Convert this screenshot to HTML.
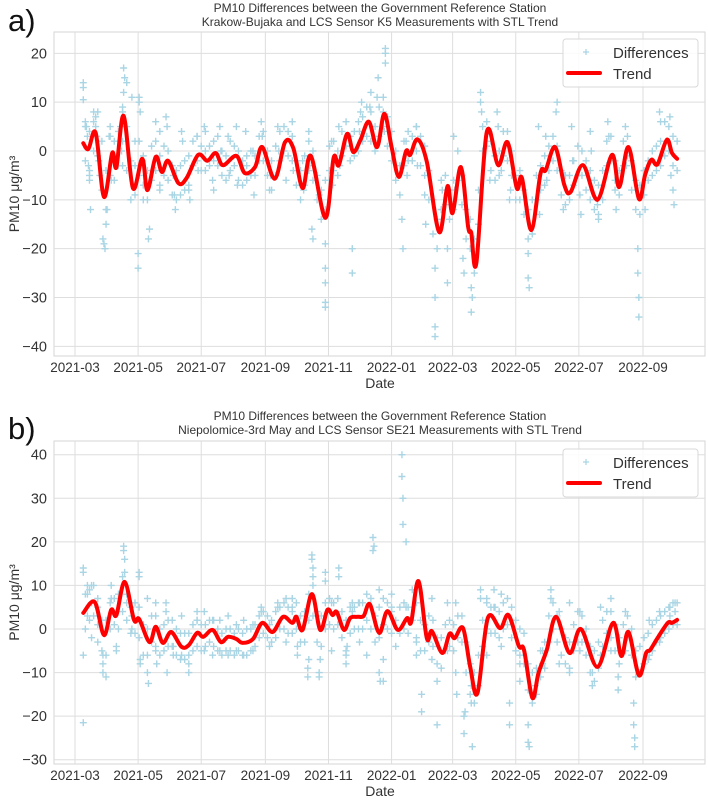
<!DOCTYPE html>
<html><head><meta charset="utf-8"><style>
html,body{margin:0;padding:0;background:#fff}
svg{display:block;font-family:"Liberation Sans",sans-serif}
</style></head><body>
<svg id="c" width="708" height="801" viewBox="0 0 708 801"></svg>
<script>
// ---- data ----
const startDate = "2021-03-01";
const xTickLabels = ["2021-03","2021-05","2021-07","2021-09","2021-11","2022-01","2022-03","2022-05","2022-07","2022-09"];
const yTicksA = [20,10,0,-10,-20,-30,-40];
const yTicksB = [40,30,20,10,0,-10,-20,-30];

const trendDatesA = ["2021-03-09","2021-03-14","2021-03-21","2021-03-29","2021-04-06","2021-04-10","2021-04-17","2021-04-26","2021-05-05","2021-05-10","2021-05-18","2021-05-24","2021-05-30","2021-06-09","2021-06-17","2021-06-28","2021-07-07","2021-07-15","2021-07-22","2021-08-04","2021-08-12","2021-08-22","2021-08-29","2021-09-10","2021-09-20","2021-09-28","2021-10-07","2021-10-15","2021-10-29","2021-11-06","2021-11-11","2021-11-19","2021-11-25","2021-12-02","2021-12-10","2021-12-18","2021-12-25","2022-01-01","2022-01-08","2022-01-15","2022-01-19","2022-01-26","2022-02-04","2022-02-16","2022-02-24","2022-03-01","2022-03-09","2022-03-16","2022-03-19","2022-03-24","2022-04-03","2022-04-14","2022-04-23","2022-05-02","2022-05-07","2022-05-16","2022-05-25","2022-05-30","2022-06-08","2022-06-17","2022-06-23","2022-07-05","2022-07-19","2022-08-02","2022-08-09","2022-08-18","2022-08-28","2022-09-03","2022-09-09","2022-09-15","2022-09-24","2022-09-29","2022-10-04"];
const trendValsA = [1.6,0.4,3.7,-9.4,-0.4,-3.3,7.2,-7.6,-1.6,-8.0,-1.2,-4.3,-2.0,-6.6,-5.5,-0.8,-2.0,-0.4,-2.9,-1.0,-4.5,-3.3,0.8,-5.7,1.8,0.6,-7.6,-1.0,-13.7,-1.4,-2.9,3.5,-0.2,2.3,6.0,0.8,7.6,0.8,-5.3,0,-0.8,2.4,-2.2,-16.6,-7.2,-12.7,-3.3,-15.5,-16.8,-22.9,3.9,-2.9,1.8,-7.6,-5.5,-16.2,-4.5,-3.9,0.8,-7.0,-8.4,-2.9,-10.0,-0.8,-7.4,0.8,-9.8,-4.9,-1.8,-2.7,2.3,-0.4,-1.6];

const trendDatesB = ["2021-03-09","2021-03-20","2021-03-29","2021-04-05","2021-04-10","2021-04-18","2021-04-27","2021-05-02","2021-05-12","2021-05-18","2021-05-25","2021-06-02","2021-06-12","2021-06-19","2021-06-27","2021-07-03","2021-07-12","2021-07-20","2021-07-27","2021-08-04","2021-08-10","2021-08-20","2021-08-29","2021-09-08","2021-09-18","2021-09-27","2021-10-01","2021-10-07","2021-10-16","2021-10-24","2021-10-31","2021-11-05","2021-11-09","2021-11-16","2021-11-22","2021-11-29","2021-12-05","2021-12-11","2021-12-20","2021-12-28","2022-01-07","2022-01-16","2022-01-20","2022-01-27","2022-02-04","2022-02-09","2022-02-19","2022-02-26","2022-03-03","2022-03-11","2022-03-18","2022-03-25","2022-04-04","2022-04-16","2022-04-24","2022-05-04","2022-05-09","2022-05-17","2022-05-23","2022-05-31","2022-06-09","2022-06-22","2022-07-03","2022-07-19","2022-08-03","2022-08-11","2022-08-18","2022-08-28","2022-09-04","2022-09-08","2022-09-15","2022-09-25","2022-09-29","2022-10-04"];
const trendValsB = [3.7,6.2,-1.4,4.4,3.2,10.8,2.1,2.3,-3.0,0.5,-3.2,-0.7,-4.1,-3.7,-0.9,-1.8,-0.2,-3.0,-1.8,-2.3,-3.2,-2.3,1.4,-0.7,2.8,1.4,2.8,-0.2,8.0,-0.2,4.4,3.2,3.9,-0.2,2.5,2.8,3.0,5.7,-0.9,4.1,-0.2,2.5,1.6,11.0,-2.1,-0.5,-5.5,-1.1,-2.1,0.2,-8.7,-14.7,2.5,0.2,3.2,-3.9,-4.8,-15.8,-10.1,-4.8,2.8,-5.5,0,-8.7,1.4,-6.2,-0.7,-10.6,-5.5,-4.8,-2.1,1.4,1.4,2.1];

// scatter outliers: days since startDate, values
const scatterDaysA = [8,8,8,10,11,12,13,14,15,14,18,20,20,21,22,23,24,27,28,29,30,31,33,34,35,44,45,46,46,47,47,48,50,55,58,61,61,62,62,63,65,66,71,72,75,78,82,82,88,89,95,96,97,103,104,110,111,118,119,125,126,133,134,140,141,148,149,156,157,165,166,172,173,180,181,188,189,196,197,204,210,211,220,221,226,227,229,230,236,242,242,242,242,242,248,249,255,256,268,268,275,276,277,285,286,292,293,300,300,300,298,299,316,317,320,321,330,331,338,339,348,348,348,348,354,355,360,360,366,367,375,376,383,383,384,392,392,393,400,401,408,409,412,420,421,438,438,439,448,449,455,456,465,466,472,473,480,481,488,489,498,499,505,506,515,516,522,523,532,533,544,544,545,545,550,551,565,566,575,576,578,579];
const scatterValsA = [14,13,10.5,6,5,3,-3,-5,-12,-6,8,7,5,3,0,-2,-5,-18,-19,-20,-15,-12,3,5,-6,5,0,-3,8,12,17,15,14,11,2,-21,-24,11,10,8,-2,-10,-18,-16,-4,6,4,-8,7,5,-5,-9,-12,4,2,-8,-10,3,-4,5,4,-6,-8,5,0,3,-5,5,-7,4,-3,0,-9,6,3,-8,-5,5,0,-6,6,-4,-2,-8,4,-3,-16,-18,-9,-19,-24,-27,-31,-32,2,-7,5,-3,-20,-25,4,8,10,9,12,11,15,20,21,18,8,4,-14,-20,2,-5,5,-3,-9,-15,-24,-30,-36,-38,-12,-8,-20,-27,3,-8,-22,-25,-28,-33,-30,10,12,8,4,-6,8,5,-4,-10,-8,-21,-26,-28,5,-13,3,-6,8,10,-12,-5,5,-2,-9,-13,4,0,-11,-14,6,3,-6,-12,5,-3,-20,-25,-30,-34,-4,-12,8,6,7,-5,-8,-11];

// dense band points: days since startDate, upper and lower observed values
const bandDaysA = [10,14,18,22,26,30,34,38,42,46,50,54,58,62,66,70,74,78,82,86,90,94,98,102,106,110,114,118,122,126,130,134,138,142,146,150,154,158,162,166,170,174,178,182,186,190,194,198,202,206,210,214,218,222,226,230,234,238,242,246,250,254,258,262,266,270,274,278,282,286,290,294,298,302,306,310,314,318,322,326,330,334,338,342,346,350,354,358,362,366,370,374,378,382,386,390,394,398,402,406,410,414,418,422,426,430,434,438,442,446,450,454,458,462,466,470,474,478,482,486,490,494,498,502,506,510,514,518,522,526,530,534,538,542,546,550,554,558,562,566,570,574,578,582];
const bandHiA = [5,4,6,8,2,-4,3,2,4,9,5,-2,-3,2,-1,-4,1,2,-1,1,0,-3,-4,-3,-2,-1,2,3,1,0,1,2,3,0,-1,2,1,0,-2,-1,0,-1,3,4,0,-2,1,4,5,4,3,-2,-4,-1,2,0,-5,-8,-6,1,2,0,4,6,3,4,6,7,9,8,5,9,11,7,4,0,-3,2,4,3,5,3,1,-4,-10,-14,-6,-5,-8,-6,0,-5,-12,-14,-18,-8,5,6,2,-1,0,4,4,0,-5,-4,-8,-12,-10,-5,-3,-1,1,3,1,-4,-5,-5,-2,1,0,-2,-4,-6,-7,-4,2,3,-2,-4,2,3,-2,-6,-7,-4,-2,0,1,2,6,5,3,2];
const bandLoA = [-2,-4,0,-1,-8,-12,-5,-6,-3,2,-4,-10,-9,-5,-7,-10,-6,-4,-7,-5,-6,-9,-10,-9,-8,-7,-3,-2,-4,-4,-3,-2,-3,-5,-6,-4,-3,-6,-7,-6,-5,-5,-2,-2,-5,-8,-5,-2,0,-1,-2,-7,-10,-7,-4,-6,-10,-14,-12,-4,-4,-5,-1,1,-2,-1,0,2,3,2,0,3,5,1,-2,-6,-9,-3,-2,-2,0,-3,-5,-10,-17,-20,-12,-11,-14,-12,-6,-11,-18,-20,-25,-15,0,1,-4,-6,-5,-1,-2,-5,-10,-10,-13,-18,-17,-10,-8,-7,-4,-2,-4,-9,-11,-10,-7,-5,-5,-8,-10,-12,-13,-10,-3,-2,-8,-9,-3,-1,-8,-12,-13,-9,-6,-5,-4,-3,-1,0,-3,-4];

const scatterDaysB = [8,8,8,8,12,12,12,16,16,16,22,22,27,27,27,30,35,35,40,40,47,47,48,48,50,55,55,62,62,63,63,70,70,71,78,78,79,88,88,89,95,95,103,103,110,110,118,118,125,125,133,133,140,140,148,148,156,156,163,163,172,172,180,180,188,188,196,196,204,204,210,210,215,215,225,225,226,229,229,230,230,236,236,237,242,242,248,248,255,255,262,262,263,268,268,275,275,282,288,288,289,294,294,295,298,298,306,306,316,316,317,317,320,320,330,330,335,335,345,345,350,350,360,360,368,368,369,376,376,377,383,383,384,392,392,398,398,405,405,412,412,420,420,430,430,438,438,439,445,452,452,460,460,468,468,478,478,488,488,500,500,508,508,518,518,525,525,532,532,540,540,541,541,546,555,555,565,565,575,575,580,580];
const scatterValsB = [13,14,-6,-21.5,10,8,3,10,6,-2,5,-3,-10,-8,-6,-11,10,7,-4,-5,18,19,16,13,6,3,0,13,12,-7,-8,7,-10,-12.5,6,-5,-8,6,4,-10,-4,-6,3,-6,-10,-8,4,2,4,-5,2,-6,2,-5,3,-6,1,-5,2,-6,1,-5,5,4,1,-4,6,5,7,-3,7,5,-6,-4,-11,-9,-7,17,16,14,12,-10,-11,-7,13,11,6,-5,14,12,-6,-8,-4,6,4,6,-3,-6,21,18,19,9,-10,-12,-7,-12,8,4,35,40,24,30,20,5,-6,-3,-15,-19,7,-7,-12,-22,6,-5,6,-10,-15,-20,-24,-19,-13,-17,-27,9,7,7,-6,9,5,8,-4,-17,-22,-8,-12,-22,-26,-27,-13,-5,-8,9,7,4,-8,6,-10,4,-5,-10,-13,5,-6,7,-5,-11,-14,4,-5,-17,-22,-25,-27,-10,2,-6,4,-3,5,3,6,4];

const bandDaysB = [10,14,18,22,26,30,34,38,42,46,50,54,58,62,66,70,74,78,82,86,90,94,98,102,106,110,114,118,122,126,130,134,138,142,146,150,154,158,162,166,170,174,178,182,186,190,194,198,202,206,210,214,218,222,226,230,234,238,242,246,250,254,258,262,266,270,274,278,282,286,290,294,298,302,306,310,314,318,322,326,330,334,338,342,346,350,354,358,362,366,370,374,378,382,386,390,394,398,402,406,410,414,418,422,426,430,434,438,442,446,450,454,458,462,466,470,474,478,482,486,490,494,498,502,506,510,514,518,522,526,530,534,538,542,546,550,554,558,562,566,570,574,578,582];
const bandHiB = [8,9,10,7,2,2,6,7,8,12,8,5,6,5,1,0,3,3,0,1,2,2,0,-1,-1,-1,1,2,1,1,2,2,0,-1,0,0,-1,0,-1,0,0,1,3,4,3,2,4,5,6,5,4,6,3,4,8,10,4,3,6,7,6,7,4,2,5,5,6,6,8,7,3,5,7,6,5,2,5,6,5,9,6,2,1,3,2,-2,-2,1,2,1,3,3,-3,-8,-10,-6,2,6,5,5,4,6,7,5,2,0,-1,-8,-10,-9,-5,-3,3,6,3,0,-2,-3,1,4,3,0,-4,-5,-3,2,4,4,1,-2,1,3,0,-5,-4,-2,-1,1,2,3,4,5,6,6];
const bandLoB = [0,2,3,1,-5,-6,0,1,0,4,2,-1,-1,-2,-6,-6,-3,-4,-6,-5,-4,-4,-6,-7,-7,-6,-5,-4,-5,-4,-3,-4,-5,-6,-5,-5,-6,-5,-6,-6,-5,-4,-2,-1,-2,-3,-2,0,0,-1,-1,0,-3,-3,2,3,-3,-4,0,1,0,1,-2,-5,-1,0,0,0,2,0,-3,-2,1,0,-1,-4,-1,0,-1,2,-2,-5,-5,-3,-4,-8,-9,-5,-4,-5,-2,-3,-10,-15,-17,-13,-4,0,-1,-1,-2,0,1,-2,-5,-6,-8,-14,-17,-15,-11,-9,-3,0,-3,-6,-8,-9,-5,-3,-3,-6,-10,-12,-9,-4,-1,-2,-5,-8,-5,-2,-6,-11,-10,-8,-7,-5,-3,-2,-1,0,1,1];

// ---- drawing ----
const NS = "http://www.w3.org/2000/svg";
const svg = document.getElementById('c');
function mk(tag, attrs, parent){ const e=document.createElementNS(NS,tag); for(const k in attrs) e.setAttribute(k,attrs[k]); (parent||svg).appendChild(e); return e; }
const t0 = Date.UTC(2021,2,1);
function dayOf(s){ const p=s.split('-').map(Number); return (Date.UTC(p[0],p[1]-1,p[2])-t0)/86400000; }
const xTickDays = xTickLabels.map(s=>dayOf(s+"-01"));

function smoothPath(pts){
  let d = "M"+pts[0][0].toFixed(1)+","+pts[0][1].toFixed(1);
  for(let i=0;i<pts.length-1;i++){
    const p0=pts[Math.max(0,i-1)], p1=pts[i], p2=pts[i+1], p3=pts[Math.min(pts.length-1,i+2)];
    const c1=[p1[0]+(p2[0]-p0[0])/6, p1[1]+(p2[1]-p0[1])/6];
    const c2=[p2[0]-(p3[0]-p1[0])/6, p2[1]-(p3[1]-p1[1])/6];
    d+=" C"+c1[0].toFixed(1)+","+c1[1].toFixed(1)+" "+c2[0].toFixed(1)+","+c2[1].toFixed(1)+" "+p2[0].toFixed(1)+","+p2[1].toFixed(1);
  }
  return d;
}

function panel(cfg){
  const g = mk('g',{});
  
  
  const L=54,R=705,T=cfg.top,B=cfg.bottom;
  const xs = d => 75 + d*1.0346;
  const ys = v => cfg.zeroY - v*cfg.ppu;
  const fr = mk('rect',{x:L,y:T,width:R-L,height:B-T,fill:'#fff',stroke:'#d6d6d6','stroke-width':1},g);
  
  
  cfg.yTicks.forEach(v=>{
    const y=ys(v);
    const gl = mk('line',{x1:L,x2:R,y1:y,y2:y,stroke:'#dedede','stroke-width':1},g);
    
    
    const tl = mk('text',{x:L-7,y:y+5,'text-anchor':'end','font-size':'14.5',fill:'#333'},g);
    tl.textContent = v<0 ? '\u2212'+Math.abs(v) : String(v);
    
    
  });
  xTickDays.forEach((d,i)=>{
    const x=xs(d);
    const gl = mk('line',{x1:x,x2:x,y1:T,y2:B,stroke:'#dedede','stroke-width':1},g);
    
    
    const tl = mk('text',{x:x,y:B+16,'text-anchor':'middle','font-size':'13.5',fill:'#333'},g);
    tl.textContent = xTickLabels[i];
    
    
  });
  const sg = mk('g',{stroke:'#a9d5e4','stroke-width':1.4},g);
  
  
  function plus(d,v){
    const x=xs(d), y=ys(v);
    const p = mk('path',{d:`M${x-3.5},${y}h7M${x},${y-3.5}v7`},sg);
    
    
  }
  cfg.sd.forEach((d,i)=>plus(d,cfg.sv[i]));
  cfg.bd.forEach((d,i)=>{ plus(d,cfg.bh[i]); plus(d,cfg.bl[i]); });
  const pts = cfg.td.map((s,i)=>[xs(dayOf(s)), ys(cfg.tv[i])]);
  const tp = mk('path',{d:smoothPath(pts),fill:'none',stroke:'#ff0000','stroke-width':4,'stroke-linejoin':'round','stroke-linecap':'round'},g);
  
  
  const t1 = mk('text',{x:380,y:cfg.titleY,'text-anchor':'middle','font-size':'12',fill:'#333'},g);
  t1.textContent = "PM10 Differences between the Government Reference Station";
  
  
  const t2 = mk('text',{x:380,y:cfg.titleY+14,'text-anchor':'middle','font-size':'12',fill:'#333'},g);
  t2.textContent = cfg.subtitle;
  
  
  const pl = mk('text',{x:8,y:cfg.titleY+19,'font-size':'31',fill:'#111'},g);
  pl.textContent = cfg.id+")";
  
  
  const xl = mk('text',{x:380,y:B+32,'text-anchor':'middle','font-size':'14',fill:'#333'},g);
  xl.textContent = "Date";
  
  
  const cy=(T+B)/2;
  const yl = mk('text',{x:19,y:cy,'text-anchor':'middle','font-size':'14',fill:'#333',transform:`rotate(-90 19 ${cy})`},g);
  yl.textContent = "PM10 \u03bcg/m\u00b3";
  
  
  const lg = mk('g',{},g);
  
  
  const ly=cfg.legendY;
  mk('rect',{x:563,y:ly,width:135,height:48,rx:3,fill:'#fff','fill-opacity':0.85,stroke:'#d8d8d8'},lg);
  const le1 = mk('path',{d:`M${583},${ly+13}h6M${586},${ly+10}v6`,stroke:'#a9d5e4','stroke-width':1.2},lg);
  
  
  const lt1 = mk('text',{x:613,y:ly+19,'font-size':'15',fill:'#333'},lg);
  lt1.textContent="Differences";
  
  
  const le2 = mk('line',{x1:568,x2:600,y1:ly+34,y2:ly+34,stroke:'#ff0000','stroke-width':4,'stroke-linecap':'round'},lg);
  
  
  const lt2 = mk('text',{x:613,y:ly+40,'font-size':'15',fill:'#333'},lg);
  lt2.textContent="Trend";
  
  
}

panel({id:'a',top:32,bottom:356,zeroY:151,ppu:4.883,yTicks:yTicksA,sd:scatterDaysA,sv:scatterValsA,bd:bandDaysA,bh:bandHiA,bl:bandLoA,td:trendDatesA,tv:trendValsA,titleY:12,legendY:39,subtitle:"Krakow-Bujaka and LCS Sensor K5 Measurements with STL Trend"});
panel({id:'b',top:441,bottom:764,zeroY:629,ppu:4.357,yTicks:yTicksB,sd:scatterDaysB,sv:scatterValsB,bd:bandDaysB,bh:bandHiB,bl:bandLoB,td:trendDatesB,tv:trendValsB,titleY:420,legendY:449,subtitle:"Niepolomice-3rd May and LCS Sensor SE21 Measurements with STL Trend"});
</script>
</body></html>
